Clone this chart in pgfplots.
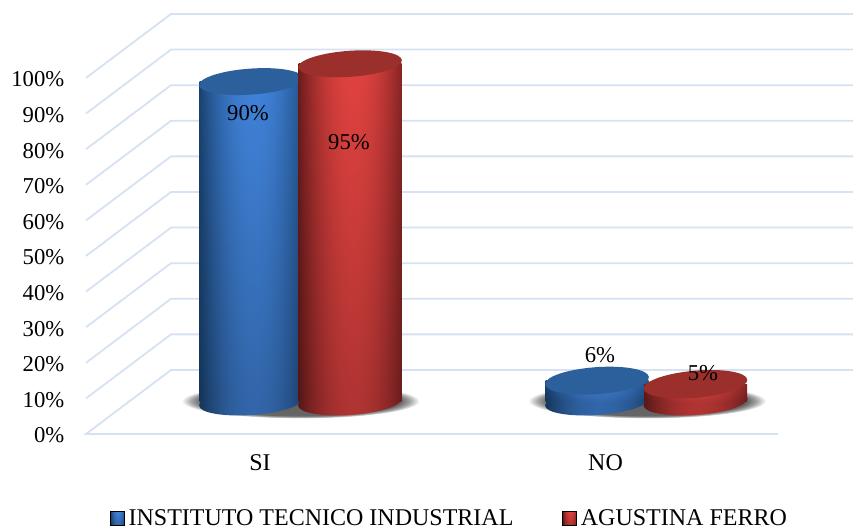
\documentclass[border=0pt]{standalone}
\usepackage{fontspec}
\setmainfont{Liberation Serif}
\usepackage{pgfplots}
\pgfplotsset{compat=1.18}
\usetikzlibrary{shapes.geometric}

\newcommand\cf{\fontsize{22.7}{27}\selectfont}
\newcommand\lf{\fontsize{24}{28}\selectfont}

% cylinder body: dark at the rim, bright in the middle, darker towards the foot
% args: name, dark rgb, bright rgb, brightness at foot, brightness at top
% (tikz maps the path's box onto the inner 50bp of the shading)
\newcommand\cylshading[9]{%
  \pgfdeclarefunctionalshading{#1}{\pgfpoint{-50bp}{-50bp}}{\pgfpoint{50bp}{50bp}}{}{
    25 add 50 div #9 #8 sub mul #8 add
    exch 25 add 50 div 0.53 sub 0.53 div dup mul 1 exch sub
    dup #5 #2 sub mul #2 add 2 index mul
    1 index #6 #3 sub mul #3 add 3 index mul
    2 index #7 #4 sub mul #4 add 4 index mul
    5 -2 roll pop pop
  }}
\cylshading{cylblue}{0.10}{0.26}{0.44}{0.25}{0.51}{0.85}{0.78}{1.0}
\cylshading{cylbluefoot}{0.10}{0.26}{0.44}{0.25}{0.51}{0.85}{0.78}{0.78}
\cylshading{cylred}{0.42}{0.11}{0.11}{0.88}{0.26}{0.25}{0.78}{1.0}
\cylshading{cylredfoot}{0.42}{0.11}{0.11}{0.88}{0.26}{0.25}{0.78}{0.78}
\pgfdeclareradialshading{cylshadow}{\pgfpointorigin}{
  color(0bp)=(black!62); color(21bp)=(black!60); color(23bp)=(black!35); color(25bp)=(white); color(50bp)=(white)}

\definecolor{gridblue}{HTML}{D6E1F1}
\definecolor{topblue}{HTML}{2C609C}
\definecolor{topred}{HTML}{9A2F2C}

\pgfplotsset{
  cyl/.style={ybar, bar shift=0pt, bar width=103pt, draw=none},
  disc/.style n args={5}{draw=none, mark=none, nodes near coords={},
    every node near coord/.style={ellipse, inner sep=0pt, anchor=center,
      minimum width=#1, minimum height=#2, rotate=#3, #4, #5}},
  % y is in percent above the plane of the cylinders' feet
  feet plane/.style={
    at={(0pt,127pt)}, anchor=south west,
    scale only axis, width=853pt, height=356pt,
    xmin=0, xmax=853, ymin=0, ymax=100,
    clip=false, hide axis},
}

\begin{document}
\begin{tikzpicture}[x=1pt,y=1pt]
\path[use as bounding box] (0,0) rectangle (853,529);

% walls, tick labels and legend; y is in percent on the front plane
\begin{axis}[
    at={(86pt,95pt)}, anchor=south west,
    scale only axis, width=767pt, height=420.08pt,
    xmin=86, xmax=853, ymin=0, ymax=118,
    clip=false,
    axis line style={draw=none},
    major tick length=0pt,
    xtick={260,605.5}, xticklabels={SI,NO},
    ytick={0,10,...,100},
    yticklabel={\pgfmathprintnumber{\tick}\%},
    /pgf/number format/assume math mode=true,
    yticklabel style={font=\cf, inner xsep=0pt, xshift=-21.5pt, yshift=-1.5pt},
    xticklabel style={font=\lf, yshift=-17pt},
    unbounded coords=jump,
    legend columns=2,
    legend style={at={(0.474,-0.2)}, anchor=center, draw=none, fill=none,
      font=\lf, inner sep=0pt,
      /tikz/every odd column/.append style={column sep=2pt},
      /tikz/every even column/.append style={column sep=47pt}},
    legend image code/.code={\path[#1] (0pt,-7pt) rectangle (14pt,7pt);},
]
\addplot[gridblue, line width=1.8pt, forget plot] coordinates {
  (778,0) (86,0) (171,17.98) (853,17.98) (nan,nan)
  (86,10) (171,27.98) (853,27.98) (nan,nan)
  (86,20) (171,37.98) (853,37.98) (nan,nan)
  (86,30) (171,47.98) (853,47.98) (nan,nan)
  (86,40) (171,57.98) (853,57.98) (nan,nan)
  (86,50) (171,67.98) (853,67.98) (nan,nan)
  (86,60) (171,77.98) (853,77.98) (nan,nan)
  (86,70) (171,87.98) (853,87.98) (nan,nan)
  (86,80) (171,97.98) (853,97.98) (nan,nan)
  (86,90) (171,107.98) (853,107.98) (nan,nan)
  (86,100) (171,117.98) (853,117.98)
};
\addlegendimage{shade, shading=cylblue}
\addlegendentry{INSTITUTO TECNICO INDUSTRIAL}
\addlegendimage{shade, shading=cylred}
\addlegendentry{AGUSTINA FERRO}
\end{axis}

% shadows and the blue feet
\begin{axis}[feet plane]
\addplot[disc={238pt}{35pt}{0}{shade}{shading=cylshadow}] coordinates {(300.5,0.3) (647,0.3)};
\addplot[disc={104pt}{26pt}{4}{shade}{shading=cylbluefoot}] coordinates {(251,0) (597,0)};
\end{axis}

% blue bodies and tops; one plot per bar, since a shading fills one whole path
\begin{axis}[feet plane]
\addplot[cyl, shade, shading=cylblue] coordinates {(251,90)};
\addplot[cyl, shade, shading=cylblue] coordinates {(597,6)};
\addplot[disc={104pt}{26pt}{4}{fill=topblue}{}] coordinates {(251,90)};
\addplot[disc={104pt}{27pt}{4}{fill=topblue}{}] coordinates {(597,6)};
\end{axis}

% red feet
\begin{axis}[feet plane]
\addplot[disc={104pt}{26pt}{4}{shade}{shading=cylredfoot}] coordinates {(350,0) (695.5,0)};
\end{axis}

% red bodies and tops, value labels
\begin{axis}[feet plane]
\addplot[cyl, shade, shading=cylred] coordinates {(350,95)};
\addplot[cyl, shade, shading=cylred] coordinates {(695.5,5)};
\addplot[disc={104pt}{26pt}{4}{fill=topred}{}] coordinates {(350,95)};
\addplot[disc={104pt}{27pt}{5}{fill=topred}{}] coordinates {(695.5,5)};
\addplot[draw=none, mark=none,
    visualization depends on={value \thisrow{dx} \as \dx},
    visualization depends on={value \thisrow{dy} \as \dy},
    nodes near coords={\pgfmathprintnumber[assume math mode=true]{\pgfplotspointmeta}\%},
    every node near coord/.style={anchor=center, inner sep=0pt, font=\cf, xshift=\dx pt, yshift=\dy pt},
] table {
x y dx dy
251 90 -3 -32
350 95 -1 -78.5
597 6 3 26
695.5 5 7.5 11
};
\end{axis}
\end{tikzpicture}
\end{document}
